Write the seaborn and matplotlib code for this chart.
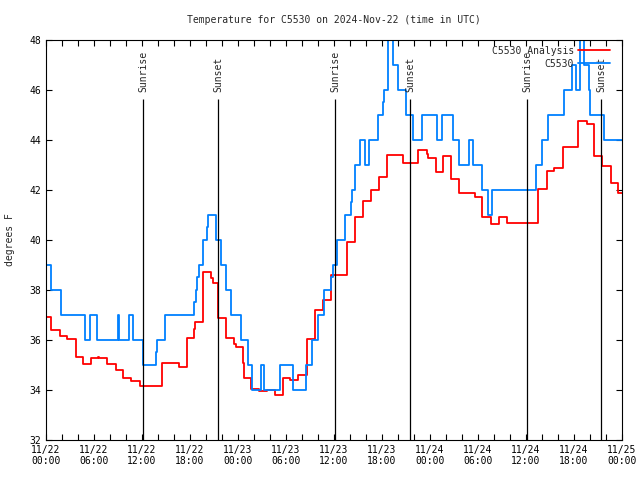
import numpy as np
import pandas as pd
import seaborn as sns
import matplotlib.pyplot as plt

# hours since 11/22 00:00 UTC at which each reading starts (step plot)
obs_hours = [0, 0.66, 1.9, 4.84, 5.46, 6.375, 8.96, 9.16, 10.4, 10.84, 12.09,
             13.75, 13.9, 14.83, 18.5, 18.7, 18.9, 19.1, 19.67, 20.17, 20.3,
             21.3, 21.9, 22.46, 23.08, 24.375, 25.2, 25.7, 26.83, 27.25, 29.2,
             30.9, 32.5, 33.3, 34.0, 34.75, 35.6, 35.83, 36.33, 37.375, 38.1,
             38.2, 38.6, 39.2, 39.9, 40.4, 41.46, 42.1, 42.25, 42.8, 43.4,
             43.96, 45.0, 45.9, 46.96, 48.85, 49.5, 50.9, 51.6, 52.85, 53.4,
             54.45, 55.25, 55.75, 61.25, 62.05, 62.8, 64.8, 65.8, 66.3, 66.75,
             67.3, 67.9, 68.05, 69.7, 72]
obs_temps = [39, 38, 37, 36, 37, 36, 37, 36, 37, 36, 35,
             35.5, 36, 37, 37.5, 38, 38.5, 39, 40, 40.5, 41,
             40, 39, 38, 37, 36, 35, 34, 35, 34, 35,
             34, 35, 36, 37, 38, 38.5, 39, 40, 41, 41.5,
             42, 43, 44, 43, 44, 45, 45.5, 46, 48.5, 47,
             46, 45, 44, 45, 44, 45, 44, 43, 44, 43,
             42, 41, 42, 43, 44, 45, 46, 47, 46, 48.5,
             47, 46, 45, 44, 44]

ana_hours = [0, 0.66, 1.7, 2.66, 3.7, 4.66, 5.58, 6.5, 6.6, 7.66, 8.7, 9.66,
             10.66, 11.7, 14.54, 16.6, 17.6, 18.55, 18.6, 19.67, 20.6, 20.9,
             21.5, 22.55, 23.5, 23.7, 24.6, 24.7, 25.6, 26.67, 27.67, 28.6,
             29.6, 30.5, 31.5, 32.6, 33.6, 34.67, 35.6, 37.58, 38.6, 39.67,
             40.6, 41.67, 42.67, 44.6, 46.5, 47.6, 47.8, 48.7, 49.6, 50.6,
             51.6, 53.6, 54.5, 55.6, 56.6, 57.6, 61.5, 62.6, 63.54, 64.6,
             66.5, 67.6, 68.5, 69.5, 70.6, 71.5, 72]
ana_temps = [36.9, 36.4, 36.16, 36.03, 35.33, 35.03, 35.3, 35.33, 35.3, 35.03,
             34.8, 34.47, 34.36, 34.16, 35.09, 34.93, 36.07, 36.43, 36.73,
             38.71, 38.47, 38.27, 36.87, 36.07, 35.85, 35.73, 35.07, 34.47,
             34.05, 33.96, 34.0, 33.8, 34.47, 34.4, 34.6, 36.05, 37.2, 37.58,
             38.6, 39.93, 40.93, 41.57, 42.0, 42.53, 43.4, 43.07, 43.6, 43.44,
             43.3, 42.73, 43.35, 42.43, 41.87, 41.73, 40.93, 40.64, 40.93,
             40.67, 42.03, 42.76, 42.87, 43.7, 44.76, 44.63, 43.37, 42.97,
             42.27, 41.9, 41.9]

sunrise = [12.17, 36.17, 60.17]
sunset = [21.54, 45.5, 69.4]

tick_hours = list(range(0, 73, 6))
tick_labels = ['11/22\n00:00', '11/22\n06:00', '11/22\n12:00', '11/22\n18:00',
               '11/23\n00:00', '11/23\n06:00', '11/23\n12:00', '11/23\n18:00',
               '11/24\n00:00', '11/24\n06:00', '11/24\n12:00', '11/24\n18:00',
               '11/25\n00:00']

sns.set_style('ticks')
plt.rcParams['font.family'] = ['DejaVu Sans Mono']

fig = plt.figure(figsize=(6.4, 4.8), dpi=100)
ax = fig.add_axes([46 / 640, 40 / 480, 576 / 640, 400 / 480])

sns.lineplot(x=ana_hours, y=ana_temps, drawstyle='steps-post', estimator=None,
             color='#ff0000', lw=1.3, label='C5530 Analysis', ax=ax)
sns.lineplot(x=obs_hours, y=obs_temps, drawstyle='steps-post', estimator=None,
             color='#0080ff', lw=1.3, label='C5530', ax=ax)

# sunrise / sunset markers
ax.vlines(sunrise + sunset, 32, 45.64, color='black', lw=0.9)
for h in sunrise:
    ax.text(h, 45.92, 'Sunrise', rotation=90, ha='center', va='bottom', fontsize=7)
for h in sunset:
    ax.text(h, 45.92, 'Sunset', rotation=90, ha='center', va='bottom', fontsize=7)

ax.set_xlim(0, 72)
ax.set_ylim(32, 48)
ax.set_xticks(tick_hours)
ax.set_xticklabels(tick_labels)
ax.set_xticks(range(0, 73, 2), minor=True)
ax.set_yticks(range(32, 49, 2))
ax.tick_params(which='both', direction='in', top=True, right=True,
               length=4, width=0.8, labelsize=7, colors='black')
for s in ax.spines.values():
    s.set_linewidth(0.8)
    s.set_color('black')

ax.set_xlabel('')
ax.set_ylabel('degrees F', fontsize=7, labelpad=10)
ax.set_title('Temperature for C5530 on 2024-Nov-22 (time in UTC)', fontsize=7, pad=12)

ax.legend(loc='upper right', bbox_to_anchor=(0.986, 0.995), borderaxespad=0,
          frameon=False, markerfirst=False, fontsize=7, handlelength=3.3,
          handletextpad=0.4, labelspacing=0.3)

fig.savefig('out.png', dpi=100)
